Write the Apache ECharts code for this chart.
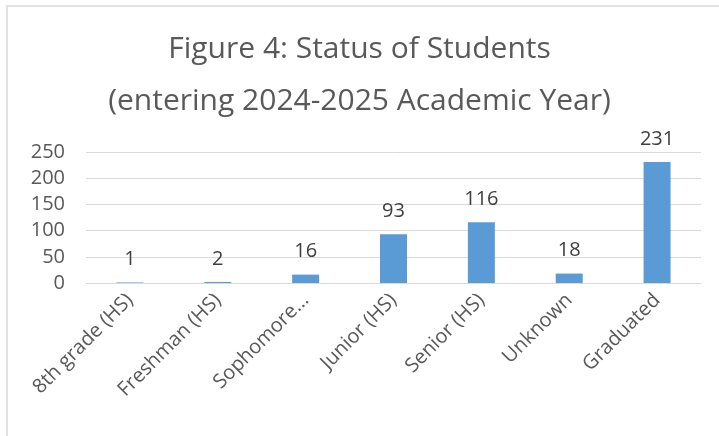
<!DOCTYPE html>
<html>
<head>
<meta charset="utf-8">
<script src="https://cdn.jsdelivr.net/npm/echarts@6/dist/echarts.min.js"></script>
<style>
  html, body { margin: 0; padding: 0; background: #fff; }
  #main { width: 719px; height: 436px; }
</style>
</head>
<body>
<div id="main"></div>
<script>
// chart data (tick labels as shown in the figure, Sophomore is cut off there)
const categories = ["8th grade (HS)", "Freshman (HS)", "Sophomore...", "Junior (HS)", "Senior (HS)", "Unknown", "Graduated"];
const students = [1, 2, 16, 93, 116, 18, 231];
const titleLines = ["Figure 4: Status of Students", "(entering 2024-2025 Academic Year)"];

const font = "Open Sans";
const chart = echarts.init(document.getElementById("main"));

chart.setOption({
  animation: false,
  textStyle: { fontFamily: font },
  graphic: [
    {
      type: "rect",
      shape: { x: 7, y: 6, width: 800, height: 500 },
      style: { fill: "none", stroke: "#d9d9d9", lineWidth: 1.5 },
      silent: true,
      z: -1
    }
  ],
  title: {
    text: titleLines.join("\n"),
    left: "center",
    top: 18,
    textStyle: {
      fontFamily: font,
      fontSize: 30,
      fontWeight: "normal",
      color: "#595959",
      lineHeight: 52
    }
  },
  grid: { left: 86, right: 18, top: 152, bottom: 153, containLabel: false },
  xAxis: {
    type: "category",
    data: categories,
    axisTick: { show: false },
    axisLine: { lineStyle: { color: "#d9d9d9", width: 1 } },
    axisLabel: {
      rotate: 45,
      interval: 0,
      margin: 14,
      fontSize: 20,
      color: "#595959"
    }
  },
  yAxis: {
    type: "value",
    min: 0,
    max: 250,
    interval: 50,
    axisLine: { show: false },
    axisTick: { show: false },
    splitLine: { lineStyle: { color: "#d9d9d9", width: 1 } },
    axisLabel: { fontSize: 20, color: "#595959", margin: 21 }
  },
  series: [
    {
      type: "bar",
      data: students,
      barWidth: 27,
      itemStyle: { color: "#5b9bd5" },
      label: {
        show: true,
        position: "top",
        distance: 13,
        fontSize: 20,
        color: "#404040"
      }
    }
  ]
});
</script>
</body>
</html>
